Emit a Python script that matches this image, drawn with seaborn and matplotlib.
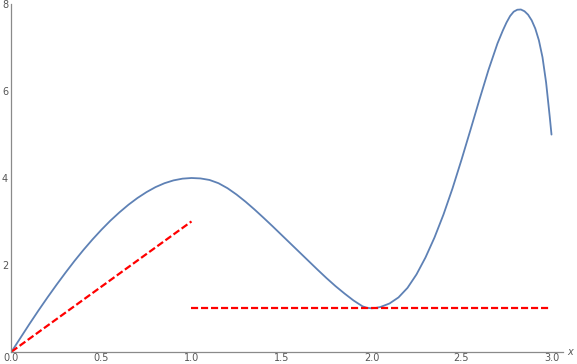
import numpy as np
import pandas as pd
import matplotlib
matplotlib.use("Agg")
import matplotlib.pyplot as plt
import seaborn as sns
from matplotlib.ticker import MultipleLocator

# Curve values
curve_x = [0.0, 0.05, 0.1, 0.15, 0.2, 0.25, 0.3, 0.35, 0.4, 0.45, 0.5, 0.55, 0.6, 0.65, 0.7, 0.75,
           0.8, 0.85, 0.9, 0.95, 1.0, 1.05, 1.1, 1.15, 1.2, 1.25, 1.3, 1.35, 1.4, 1.45, 1.5,
           1.55, 1.6, 1.65, 1.7, 1.75, 1.8, 1.85, 1.9, 1.95, 1.975, 2.0, 2.025, 2.05, 2.1, 2.15,
           2.2, 2.25, 2.3, 2.35, 2.4, 2.45, 2.5, 2.55, 2.6, 2.65, 2.7, 2.73, 2.75, 2.77,
           2.79, 2.81, 2.83, 2.85, 2.87, 2.89, 2.91, 2.93, 2.95, 2.97, 2.99, 3.0]
curve_y = [0.0, 0.32, 0.64, 0.95, 1.25, 1.54, 1.82, 2.09, 2.345, 2.585, 2.81, 3.02, 3.21, 3.385,
           3.54, 3.675, 3.79, 3.88, 3.945, 3.985, 4.0, 3.99, 3.955, 3.88, 3.765, 3.62, 3.455,
           3.275, 3.085, 2.89, 2.69, 2.49, 2.29, 2.09, 1.89, 1.695, 1.51, 1.34, 1.18, 1.045,
           1.01, 1.0, 1.008, 1.03, 1.11, 1.25, 1.47, 1.78, 2.17, 2.63, 3.16, 3.76, 4.42, 5.11,
           5.81, 6.49, 7.10, 7.40, 7.58, 7.73, 7.83, 7.875, 7.88, 7.84, 7.76, 7.63, 7.44,
           7.17, 6.78, 6.20, 5.42, 5.0]

# Red dashed segments
tan_x = [0.0, 1.0]
tan_y = [0.0, 3.0]
hor_x = [1.0, 3.0]
hor_y = [1.0, 1.0]

sns.set_style("white")
plt.rcParams['font.family'] = ['DejaVu Sans']

fig = plt.figure(figsize=(5.77, 3.64), dpi=100)
ax = fig.add_axes([11.5/577, 12.3/364, (563-11.5)/577, (351.7-4.3)/364])

blue = (0.368417, 0.506779, 0.709798)
sns.lineplot(x=curve_x, y=curve_y, ax=ax, color=blue, linewidth=1.3, sort=False, estimator=None)
sns.lineplot(x=tan_x, y=tan_y, ax=ax, color="red", linewidth=1.6, sort=False, estimator=None)
sns.lineplot(x=hor_x, y=hor_y, ax=ax, color="red", linewidth=1.6, sort=False, estimator=None)
for ln in ax.lines[1:]:
    ln.set_dashes((3.2, 1.3))

ax.set_xlim(0, (563-11.5)/180)
ax.set_ylim(0, 8.0)

ax.xaxis.set_minor_locator(MultipleLocator(0.1))
ax.yaxis.set_minor_locator(MultipleLocator(0.5))
ax.set_xticks([0, 0.5, 1.0, 1.5, 2.0, 2.5, 3.0])
ax.set_xticklabels(["0.0", "0.5", "1.0", "1.5", "2.0", "2.5", "3.0"])
ax.set_yticks([2, 4, 6, 8])
ax.set_yticklabels(["2", "4", "6", "8"])

gray = "#8a8a8a"
for s in ["top", "right"]:
    ax.spines[s].set_visible(False)
for s in ["left", "bottom"]:
    ax.spines[s].set_color(gray)
    ax.spines[s].set_linewidth(0.9)

ax.tick_params(axis="both", which="major", direction="in", length=4, width=0.8,
               color=gray, labelsize=7, labelcolor="#555555")
ax.tick_params(axis="both", which="minor", direction="in", length=2.5, width=0.6, color=gray)
ax.tick_params(axis="x", which="major", pad=0.8)
ax.tick_params(axis="y", which="major", pad=2.5)

ax.set_xlabel("")
ax.set_ylabel("")
ax.text(1.008, 0.0, "x", transform=ax.transAxes, fontsize=7, style="italic",
        color="#555555", ha="left", va="center")

fig.savefig("out.png", dpi=100)
